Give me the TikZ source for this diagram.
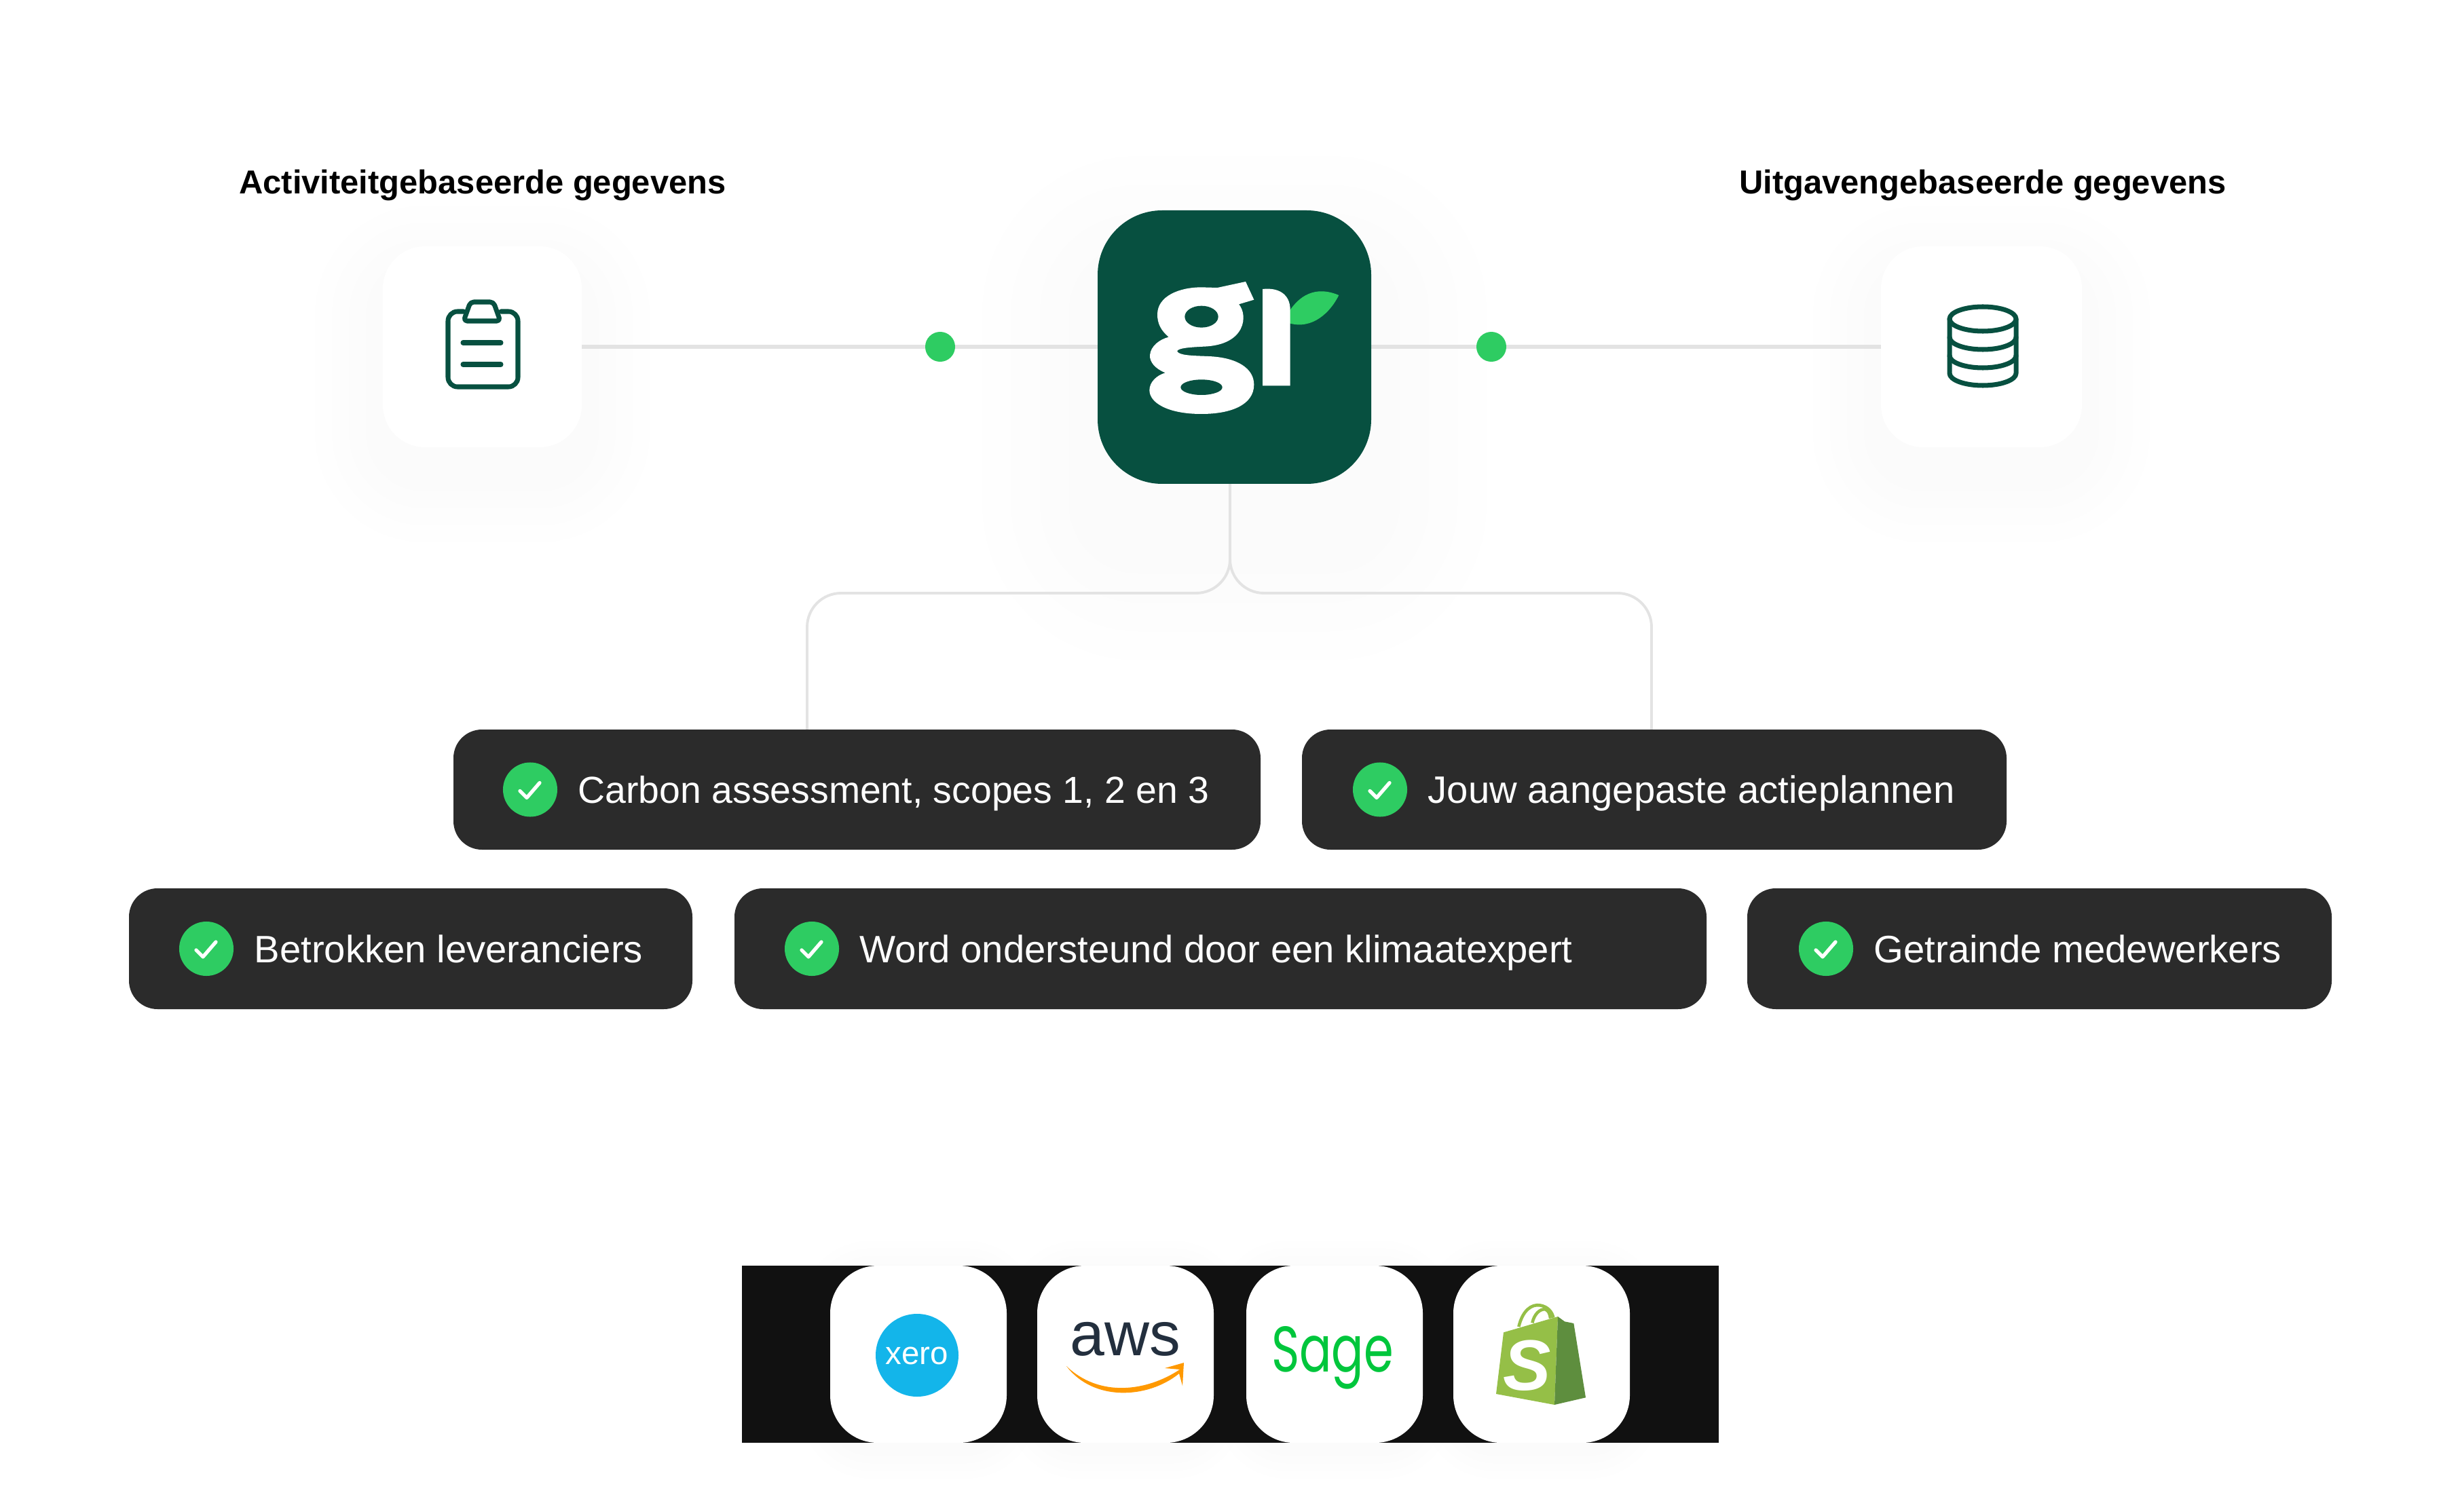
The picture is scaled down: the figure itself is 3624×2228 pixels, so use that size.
\documentclass[tikz,border=0pt]{standalone}
\usepackage{fontspec}
\setmainfont{Liberation Sans}
\newfontfamily\logofont{Poppins}
\usetikzlibrary{calc}
\definecolor{leafgreen}{HTML}{2ECC62}
\definecolor{darkgreen}{HTML}{075040}
\definecolor{pillgrey}{HTML}{2B2B2B}
\definecolor{linegrey}{HTML}{E3E3E3}
\definecolor{bandblack}{HTML}{111111}
\definecolor{xeroblue}{HTML}{13B5EA}
\definecolor{awsnavy}{HTML}{232F3E}
\definecolor{awsorange}{HTML}{FF9900}
\definecolor{sagegreen}{HTML}{00C63C}
\definecolor{shoplight}{HTML}{95BF47}
\definecolor{shopdark}{HTML}{5E8E3E}
\newcommand{\softshadow}[6]{% x1,y1,x2,y2,reach,drop
\foreach \s in {1,...,4} {
\pgfmathsetmacro{\grow}{\s*#5/4}
\fill[black,opacity=.002,rounded corners=.6cm+\grow*0.01cm] (#1-\grow,#2-\grow+#6) rectangle (#3+\grow,#4+\grow+#6);
}}
\tikzset{
card/.style={fill=white,draw=none,rounded corners=.62cm},
pill/.style={fill=pillgrey,draw=none,rounded corners=.42cm},
checkdot/.style={circle,fill=leafgreen,draw=none,minimum size=.8cm,inner sep=0pt},
pilltext/.style={anchor=base west,text=white,inner sep=0pt,font=\fontsize{16}{19}\selectfont},
headtext/.style={anchor=base,text=black,inner sep=0pt,font=\fontsize{13.9}{16}\selectfont\bfseries},
dot/.style={circle,fill=leafgreen,draw=none,minimum size=.44cm,inner sep=0pt},
wire/.style={draw=linegrey,line width=1.8pt},
icon/.style={draw=darkgreen,line width=2pt,line join=round,line cap=round},
}
\newcommand{\checkpill}[7]{% name,x1,y1,x2,y2,dotx,text
\fill[pill] (#2,#3) rectangle (#4,#5);
\node[checkdot] (#1dot) at (#6,{(#3+#5)/2}) {};
\draw[white,line width=1.5pt,line cap=round,line join=round] ($(#1dot)+(-15,2)$) -- ++(10,10) -- ++(19,-22);
\node[pilltext] (#1) at (#6+70,{(#3+#5)/2+20}) {#7};
}
\begin{document}
\begin{tikzpicture}[x=0.01cm,y=-0.01cm]
\useasboundingbox[fill=white] (0,0) rectangle (3624,2228);
% shadows
\softshadow{564}{363}{857}{659}{100}{40}
\softshadow{2771}{363}{3067}{659}{100}{40}
\softshadow{1617}{310}{2020}{713}{170}{90}
\foreach \x in {1223,1528,1836,2141} {
\softshadow{\x}{1865}{\x+260}{2126}{45}{8}
}
% top row
\node[headtext] (acthead) at (711,286) {Activiteitgebaseerde gegevens};
\node[headtext] (uithead) at (2921,286) {Uitgavengebaseerde gegevens};
\fill[card] (564,363) rectangle (857,659);
\fill[card] (2771,363) rectangle (3067,659);
\coordinate (actcard) at (857,511);
\coordinate (uitcard) at (2771,511);
\coordinate (grleft) at (1617,511);
\coordinate (grright) at (2020,511);
\draw[wire] (actcard) -- (grleft);
\draw[wire] (grright) -- (uitcard);
\node[dot] (actdot) at (1385,511) {};
\node[dot] (uitdot) at (2197,511) {};
% tree
\coordinate (grbottom) at (1812,713);
\coordinate (carbontop) at (1189,1075);
\coordinate (jouwtop) at (2433,1075);
\draw[wire,line width=1.1pt,rounded corners=.5cm] (grbottom) -- (1812,874) -- (1189,874) -- (carbontop);
\draw[wire,line width=1.1pt,rounded corners=.5cm] (grbottom) -- (1812,874) -- (2433,874) -- (jouwtop);
% logo
\fill[darkgreen,rounded corners=.95cm] (1617,310) rectangle (2020,713);
\begin{scope}[shift={(1560,300)},scale=1/3]
\fill[white] (700,372) -- (825,345) -- (862,425) -- (795,445)
  .. controls (835,490) and (830,625) .. (640,632)
  .. controls (560,636) and (530,640) .. (522,652)
  .. controls (530,672) and (590,672) .. (660,675)
  .. controls (790,680) and (862,730) .. (862,800)
  .. controls (862,890) and (760,930) .. (630,930)
  .. controls (480,930) and (400,880) .. (400,825)
  .. controls (400,790) and (430,760) .. (470,748)
  .. controls (425,730) and (400,700) .. (402,670)
  .. controls (405,630) and (445,600) .. (485,590)
  .. controls (450,560) and (435,530) .. (435,490)
  .. controls (435,410) and (530,370) .. (630,370) -- cycle;
\fill[darkgreen] (630,500) ellipse [x radius=74,y radius=48];
\fill[darkgreen] (630,812) ellipse [x radius=92,y radius=34];
\fill[leafgreen] (1015,480) .. controls (1060,410) and (1130,360) .. (1237,405)
  .. controls (1200,480) and (1120,560) .. (1015,528) -- cycle;
\fill[white] (900,378) .. controls (970,370) and (1022,400) .. (1022,470) -- (1022,805) -- (900,805) -- cycle;
\end{scope}
% pills
\checkpill{carbon}{668}{1075}{1857}{1252}{781}{\fontsize{15.75}{19}\selectfont Carbon assessment, scopes 1, 2 en 3}
\checkpill{jouw}{1918}{1075}{2956}{1252}{2033}{Jouw aangepaste actieplannen}
\checkpill{betrokken}{190}{1309}{1020}{1487}{304}{Betrokken leveranciers}
\checkpill{word}{1082}{1309}{2514}{1487}{1196}{Word ondersteund door een klimaatexpert}
\checkpill{getraind}{2574}{1309}{3435}{1487}{2690}{Getrainde medewerkers}
% bottom band
\fill[bandblack] (1093,1865) rectangle (2532,2126);
\foreach \x in {1223,1528,1836,2141} {
\fill[white,rounded corners=.7cm] (\x,1865) rectangle (\x+260,2126);
}
\fill[xeroblue] (1351,1997) circle (61);
\node[anchor=base,text=white,inner sep=0pt,font=\fontsize{13.5}{14}\selectfont] (xero) at (1351,2010) {xero};
\node[anchor=base,text=awsnavy,inner sep=0pt,font=\fontsize{26}{26}\selectfont] (aws) at (1658,1997) {aws};
\fill[awsorange] (1571,2013) .. controls (1620,2060) and (1690,2050) .. (1738,2018)
  -- (1716,2016) -- (1744,2008) -- (1742,2042) -- (1737,2024) .. controls (1690,2062) and (1610,2065) .. cycle;
\node[anchor=base,text=sagegreen,inner sep=0pt,font=\logofont\fontsize{20}{20}\selectfont] (sage) at (1963,2021) {\scalebox{1}[1.35]{Sage}};
% bag
\begin{scope}[shift={(2180,1900)},scale=1/3]
\fill[shoplight] (105,190) -- (345,120) -- (330,510) -- (72,462) -- cycle;
\fill[shopdark] (345,120) -- (375,142) -- (415,150) -- (468,478) -- (330,510) -- cycle;
\draw[shoplight,line width=1.3pt] (172,165) .. controls (190,90) and (230,65) .. (265,70) .. controls (300,75) and (320,100) .. (325,125);
\draw[shoplight,line width=1.3pt] (232,148) .. controls (240,110) and (265,85) .. (290,88) .. controls (305,95) and (310,110) .. (312,128);
\end{scope}
\node[text=white,inner sep=0pt,font=\fontsize{30}{30}\selectfont\bfseries\itshape] (shops) at (2250,2012) {S};
% clipboard
\draw[icon,rounded corners=.14cm] (683,459) -- (660,459) -- (660,570) -- (763,570) -- (763,459) -- (738,459);
\draw[icon,rounded corners=.05cm] (683,473) -- (693,445) -- (727,445) -- (737,473) -- cycle;
\draw[icon] (682,505) -- (738,505);
\draw[icon] (682,537) -- (738,537);
% database
\draw[icon] (2921,470) ellipse [x radius=49,y radius=18];
\draw[icon] (2872,470) -- (2872,550) arc [start angle=180,end angle=0,x radius=49,y radius=18] -- (2970,470);
\draw[icon] (2872,497) arc [start angle=180,end angle=0,x radius=49,y radius=18];
\draw[icon] (2872,524) arc [start angle=180,end angle=0,x radius=49,y radius=18];
\end{tikzpicture}
\end{document}
